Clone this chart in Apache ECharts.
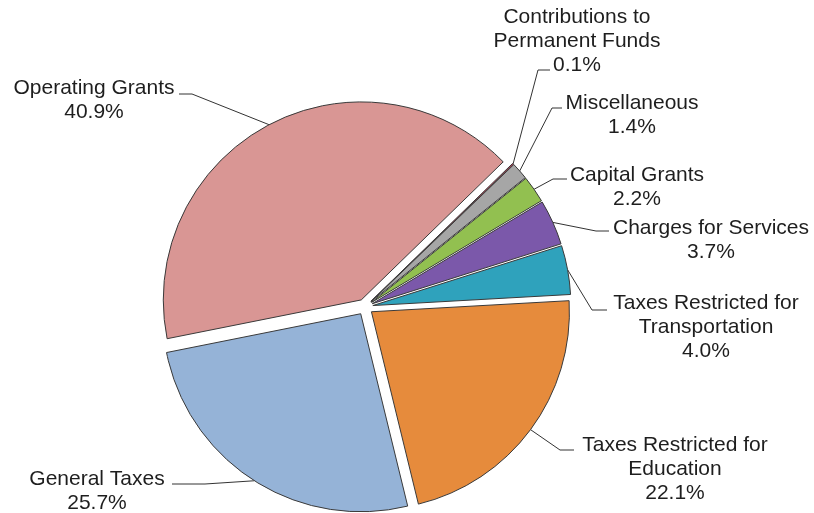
<!DOCTYPE html>
<html>
<head>
<meta charset="utf-8">
<script src="https://cdn.jsdelivr.net/npm/echarts@6/dist/echarts.min.js"></script>
<style>
  html, body { margin: 0; padding: 0; background: #ffffff; }
  #chart { width: 814px; height: 513px; }
</style>
</head>
<body>
<div id="chart"></div>
<script>
// ---- data ----
const categories = [
  'Operating Grants',
  'Contributions to\nPermanent Funds',
  'Miscellaneous',
  'Capital Grants',
  'Charges for Services',
  'Taxes Restricted for\nTransportation',
  'Taxes Restricted for\nEducation',
  'General Taxes'
];
const values = [40.9, 0.1, 1.4, 2.2, 3.7, 4.0, 22.1, 25.7];
const colors = ['#D99694', '#C8354F', '#A6A6A6', '#92C050', '#7B58AA', '#2FA2BC', '#E68B3C', '#95B3D7'];

// ---- layout (label block centres and leader-line ends near the text) ----
const labelCenters = [[94, 100], [577, 41], [632, 115], [637, 187], [711, 240], [706, 327], [675, 469], [97, 491]];
const leaderEnds = [
  [[192, 94], [179, 94]],
  [[538, 70], [550, 70]],
  [[552, 108], [562, 108]],
  [[553, 179], [567, 179]],
  [[596, 231], [609, 231]],
  [[592, 310], [607, 310]],
  [[560, 450], [574, 450]],
  [[205, 484], [172, 484]]
];
const CENTER = [365, 307];
const RADIUS = 198;
const START_ANGLE = 191.3;
const EXPLODE = 8;

const total = values.reduce((a, b) => a + b, 0);
// explode offset of each slice along its mid angle
const offsets = [];
let acc = 0;
values.forEach(v => {
  const s = START_ANGLE - acc / total * 360;
  const e = s - v / total * 360;
  const mid = (s + e) / 2 * Math.PI / 180;
  offsets.push([Math.cos(mid) * EXPLODE, -Math.sin(mid) * EXPLODE]);
  acc += v;
});

const series = categories.map((_, k) => ({
  type: 'pie',
  center: [CENTER[0] + offsets[k][0], CENTER[1] + offsets[k][1]],
  radius: RADIUS,
  startAngle: START_ANGLE,
  clockwise: true,
  silent: true,
  avoidLabelOverlap: false,
  emphasis: { disabled: true },
  label: {
    show: false,
    position: 'outside',
    fontFamily: 'Liberation Sans, Arial, sans-serif',
    fontSize: 21,
    lineHeight: 24,
    color: '#1e1e1e',
    align: 'center',
    formatter: p => p.name + '\n' + p.value.toFixed(1) + '%'
  },
  labelLine: {
    show: false,
    length: 10,
    length2: 10,
    lineStyle: { color: '#333333', width: 1 }
  },
  labelLayout: params => {
    const i = params.dataIndex;
    const p0 = params.labelLinePoints ? params.labelLinePoints[0] : [0, 0];
    const ends = leaderEnds[i];
    return {
      x: labelCenters[i][0],
      y: labelCenters[i][1],
      align: 'center',
      verticalAlign: 'middle',
      labelLinePoints: [[p0[0], p0[1]], ends[0], ends[1]]
    };
  },
  data: categories.map((name, i) => (i === k ? {
    name: name,
    value: values[i],
    itemStyle: { color: colors[i], borderColor: '#3a3a3a', borderWidth: 1 },
    label: { show: true },
    labelLine: { show: true }
  } : {
    name: name,
    value: values[i],
    itemStyle: { color: 'rgba(0,0,0,0)', borderWidth: 0 },
    label: { show: false },
    labelLine: { show: false }
  }))
}));

const chart = echarts.init(document.getElementById('chart'), null, { renderer: 'canvas' });
chart.setOption({
  backgroundColor: '#ffffff',
  animation: false,
  series: series
});
</script>
</body>
</html>
